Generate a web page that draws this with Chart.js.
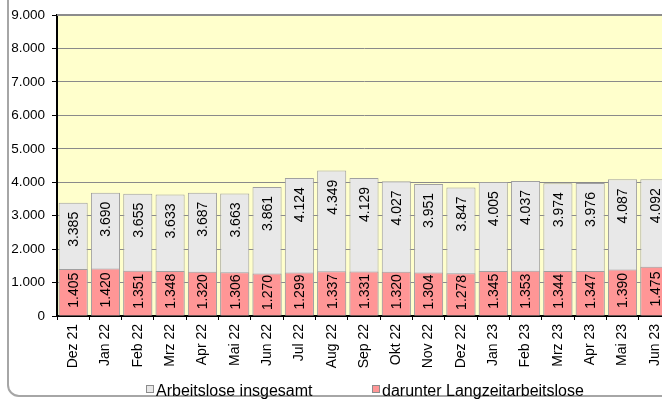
<!DOCTYPE html>
<html><head><meta charset="utf-8">
<script src="https://cdn.jsdelivr.net/npm/chart.js@4"></script>
<style>
html,body{margin:0;padding:0;background:#fff;overflow:hidden;width:662px;height:401px;position:relative}
#frame{position:absolute;left:7px;top:-20px;width:720px;height:417px;border:2px solid #a6a6a6;border-radius:12px;box-sizing:border-box}
#wrap{position:absolute;left:0;top:0;width:680px;height:401px}
</style></head><body>
<div id="frame"></div>
<div id="wrap"><canvas id="c" width="680" height="401" style="width:680px;height:401px"></canvas></div>
<script>
const categories = ['Dez 21','Jan 22','Feb 22','Mrz 22','Apr 22','Mai 22','Jun 22','Jul 22','Aug 22','Sep 22','Okt 22','Nov 22','Dez 22','Jan 23','Feb 23','Mrz 23','Apr 23','Mai 23','Jun 23'];
const totalValues = [3385,3690,3655,3633,3687,3663,3861,4124,4349,4129,4027,3951,3847,4005,4037,3974,3976,4087,4092];
const longTermValues = [1405,1420,1351,1348,1320,1306,1270,1299,1337,1331,1320,1304,1278,1345,1353,1344,1347,1390,1475];
const seriesNames = ['Arbeitslose insgesamt','darunter Langzeitarbeitslose'];
const yMin = 0, yMax = 9000, yStep = 1000;

const FONT = "'Liberation Sans', Arial, sans-serif";
const fmt = n => String(n).replace(/\B(?=(\d{3})+(?!\d))/g, '.');
const colors = { total: '#e8e8e8', longTerm: '#ff9696', border: '#a0a0a0', plotBg: '#ffffcc' };

const bgPlugin = {
  id: 'bg',
  beforeDraw(chart) {
    const {ctx, chartArea: a} = chart;
    ctx.save();
    ctx.fillStyle = colors.plotBg;
    ctx.fillRect(a.left, a.top, a.right - a.left, a.bottom - a.top);
    ctx.restore();
  },
  afterDraw(chart) {
    const {ctx, chartArea: a} = chart;
    ctx.save();
    ctx.strokeStyle = '#8c8c8c';
    ctx.lineWidth = 2;
    ctx.beginPath();
    ctx.moveTo(a.left, a.top);
    ctx.lineTo(a.right, a.top);
    ctx.stroke();
    ctx.restore();
  }
};

const labelPlugin = {
  id: 'vlabels',
  afterDatasetsDraw(chart) {
    const ctx = chart.ctx;
    ctx.save();
    ctx.font = '14px ' + FONT;
    ctx.fillStyle = '#000';
    ctx.textAlign = 'center';
    ctx.textBaseline = 'middle';
    chart.data.datasets.forEach((ds, di) => {
      const meta = chart.getDatasetMeta(di);
      meta.data.forEach((el, i) => {
        const txt = fmt(ds.data[i]);
        const w = ctx.measureText(txt).width;
        let cy;
        if (di === 0) cy = el.y + 9 + w / 2;
        else cy = (el.y + el.base) / 2 - 2;
        ctx.save();
        ctx.translate(el.x + 1, cy);
        ctx.rotate(-Math.PI / 2);
        ctx.fillText(txt, 0, 0);
        ctx.restore();
      });
    });
    ctx.restore();
  }
};

const legendPlugin = {
  id: 'customLegend',
  afterDraw(chart) {
    const ctx = chart.ctx;
    const items = [
      {x: 146, fill: colors.total, text: seriesNames[0]},
      {x: 372, fill: colors.longTerm, text: seriesNames[1]}
    ];
    ctx.save();
    ctx.font = '16px ' + FONT;
    ctx.textBaseline = 'alphabetic';
    ctx.textAlign = 'left';
    items.forEach(it => {
      ctx.fillStyle = it.fill;
      ctx.fillRect(it.x, 385.5, 7, 7);
      ctx.strokeStyle = '#8c8c8c';
      ctx.lineWidth = 1;
      ctx.strokeRect(it.x + 0.5, 385.5, 7, 7);
      ctx.fillStyle = '#000';
      ctx.fillText(it.text, it.x + 10, 396);
    });
    ctx.restore();
  }
};

new Chart(document.getElementById('c'), {
  type: 'bar',
  data: {
    labels: categories,
    datasets: [
      { label: seriesNames[0], data: totalValues, backgroundColor: colors.total, borderColor: colors.border, borderWidth: 1, grouped: false, order: 1, barPercentage: 0.9, categoryPercentage: 1.0 },
      { label: seriesNames[1], data: longTermValues, backgroundColor: colors.longTerm, borderColor: colors.border, borderWidth: 1, grouped: false, order: 0, barPercentage: 0.9, categoryPercentage: 1.0 }
    ]
  },
  options: {
    responsive: false,
    animation: false,
    devicePixelRatio: 1,
    layout: { padding: { left: 0, top: 15, right: 9, bottom: 25 } },
    plugins: { legend: { display: false }, tooltip: { enabled: false } },
    scales: {
      x: {
        offset: true,
        grid: { offset: true, drawOnChartArea: false, drawTicks: true, tickLength: 4, tickColor: '#000', tickWidth: 1 },
        border: { color: '#000', width: 2 },
        ticks: { autoSkip: false, maxRotation: 90, minRotation: 90, padding: 4, color: '#000', font: { family: FONT, size: 14 } },
        afterFit(s) { s.height = 60; }
      },
      y: {
        min: yMin, max: yMax,
        grid: { color: '#8a8a8a', lineWidth: 1, borderDash: [2, 2], tickBorderDash: [], tickColor: '#000', tickLength: 5, drawTicks: true },
        border: { color: '#000', width: 2 },
        ticks: { stepSize: yStep, padding: 7, color: '#000', font: { family: FONT, size: 13.5 }, callback: v => fmt(v) },
        afterFit(s) { s.width = 57; }
      }
    }
  },
  plugins: [bgPlugin, labelPlugin, legendPlugin]
});
</script>
</body></html>
